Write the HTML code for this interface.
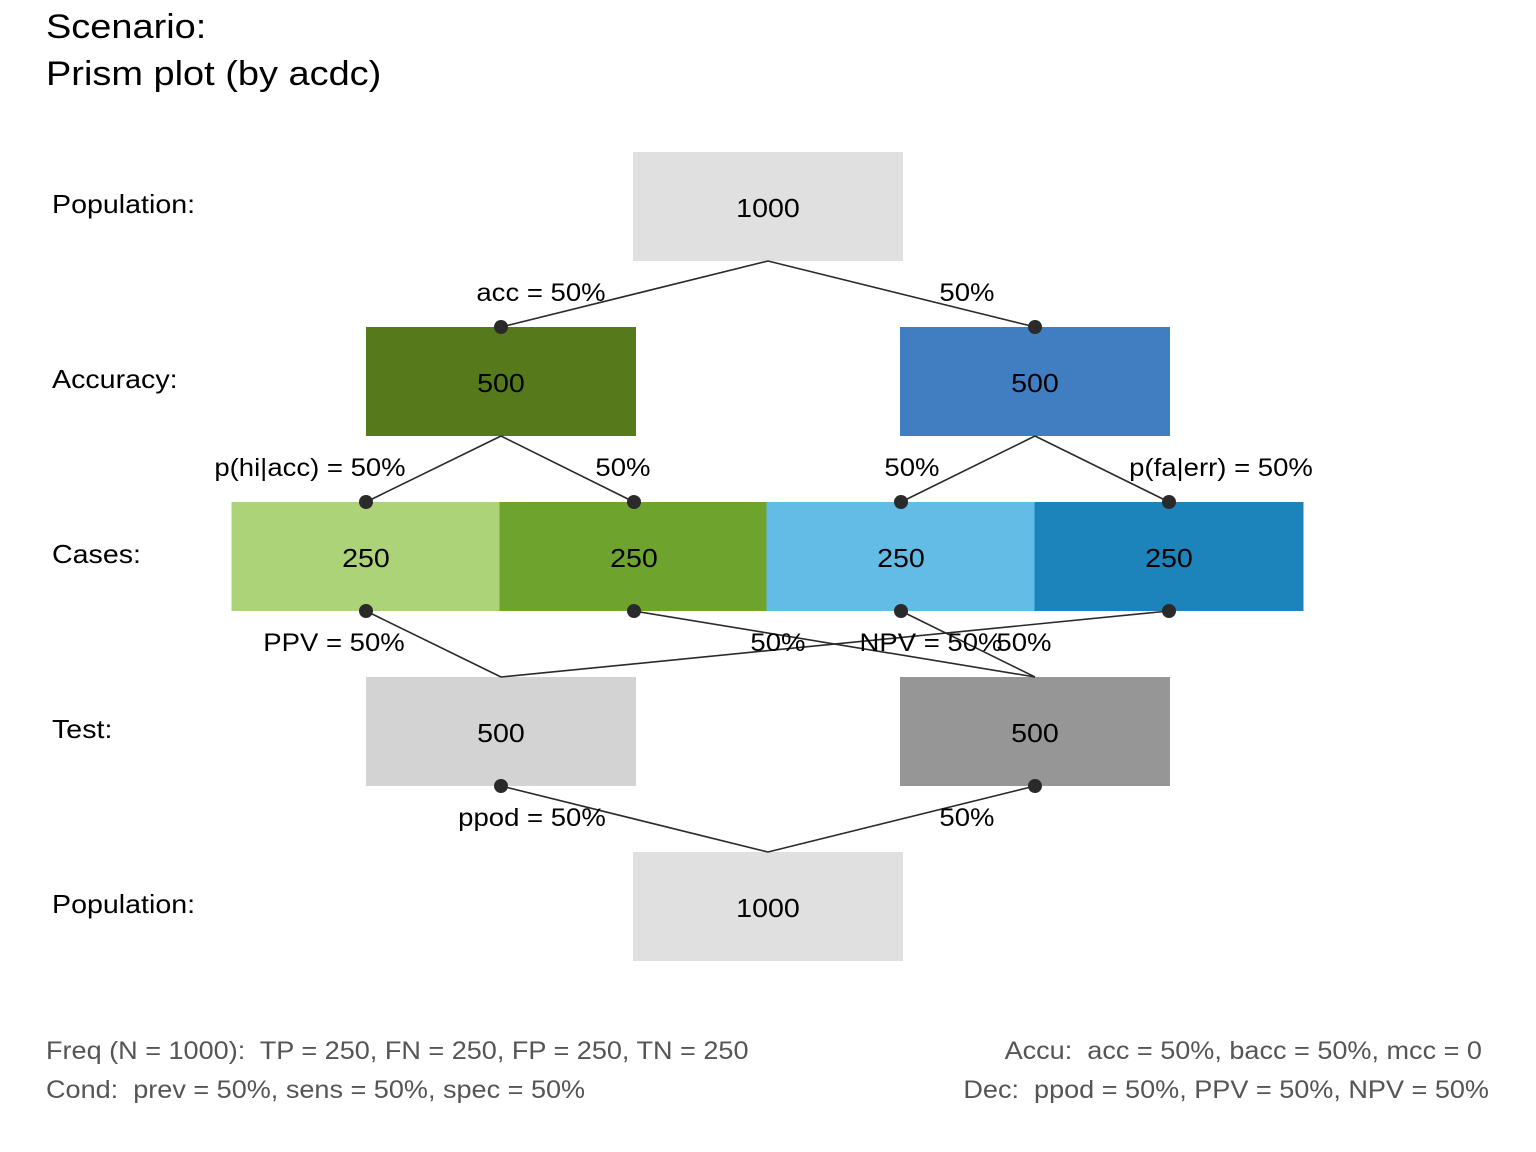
<!DOCTYPE html>
<html><head><meta charset="utf-8"><style>
body{margin:0;background:#fff;}
svg{display:block;font-family:"Liberation Sans",Arial,sans-serif;}
text{white-space:pre;}
</style></head><body>
<svg id="chart" width="1536" height="1152" viewBox="0 0 1536 1152">
<text x="46" y="38" font-size="34.5" fill="#000">Scenario:</text>
<text x="46" y="85" font-size="34.5" fill="#000">Prism plot (by acdc)</text>
<g font-size="26" fill="#000">
<text x="52" y="213">Population:</text>
<text x="52" y="388">Accuracy:</text>
<text x="52" y="563">Cases:</text>
<text x="52" y="738">Test:</text>
<text x="52" y="913">Population:</text>
</g>
<g id="boxes"></g>
<g id="links"></g>
<g id="edgelabels" font-size="25" fill="#000"></g>
<g font-size="24.6" fill="#555">
<text x="46" y="1059">Freq (N = 1000):  TP = 250, FN = 250, FP = 250, TN = 250</text>
<text x="46" y="1098">Cond:  prev = 50%, sens = 50%, spec = 50%</text>
<text x="1482" y="1059" text-anchor="end">Accu:  acc = 50%, bacc = 50%, mcc = 0</text>
<text x="1489" y="1098" text-anchor="end">Dec:  ppod = 50%, PPV = 50%, NPV = 50%</text>
</g>
</svg>
<script>
const popValues = [1000];
const accValues = [500, 500];
const caseValues = [250, 250, 250, 250];
const testValues = [500, 500];
const popBottomValues = [1000];
const accColors = ["#567a1b","#407ec1"];
const caseColors = ["#acd377","#6ea42e","#63bce5","#1d83bb"];
const testColors = ["#d3d3d3","#969696"];
const popColor = "#e0e0e0";

const NS = "http://www.w3.org/2000/svg";
const rowTop = [152, 327, 502, 677, 852];
const boxH = 109;
function colX(i, n){
  if(n===1) return 768;
  if(n===2) return [501,1035][i];
  return [366,634,901,1169][i];
}
const rows = [
  {vals:popValues, cols:[popColor], name:"population-top"},
  {vals:accValues, cols:accColors, name:"accuracy"},
  {vals:caseValues, cols:caseColors, name:"cases"},
  {vals:testValues, cols:testColors, name:"test"},
  {vals:popBottomValues, cols:[popColor], name:"population-bottom"}
];
const gB = document.getElementById("boxes");
rows.forEach((r, ri) => {
  r.vals.forEach((v, i) => {
    const n = r.vals.length, cx = colX(i, n);
    const w = n===4 ? 269 : 270;
    const rect = document.createElementNS(NS, "rect");
    rect.setAttribute("x", cx - w/2); rect.setAttribute("y", rowTop[ri]);
    rect.setAttribute("width", w); rect.setAttribute("height", boxH);
    rect.setAttribute("fill", r.cols[i % r.cols.length]);
    
    
    gB.appendChild(rect);
    const t = document.createElementNS(NS, "text");
    t.setAttribute("x", cx); t.setAttribute("y", rowTop[ri] + 65);
    t.setAttribute("text-anchor", "middle"); t.setAttribute("font-size", "26");
    t.textContent = v;
    
    
    gB.appendChild(t);
  });
});
const links = [
  [0,0,"b",1,0,"t"],[0,0,"b",1,1,"t"],
  [1,0,"b",2,0,"t"],[1,0,"b",2,1,"t"],[1,1,"b",2,2,"t"],[1,1,"b",2,3,"t"],
  [2,0,"b",3,0,"t"],[2,3,"b",3,0,"t"],[2,1,"b",3,1,"t"],[2,2,"b",3,1,"t"],
  [3,0,"b",4,0,"t"],[3,1,"b",4,0,"t"]
];
const gL = document.getElementById("links");
function pt(ri, i, e){ return [colX(i, rows[ri].vals.length), rowTop[ri] + (e==="b"?boxH:0)]; }
const dots = [];
links.forEach((l, k) => {
  let a = pt(l[0],l[1],l[2]), b = pt(l[3],l[4],l[5]);
  const ln = document.createElementNS(NS, "line");
  ln.setAttribute("x1", a[0]); ln.setAttribute("y1", a[1]);
  ln.setAttribute("x2", b[0]); ln.setAttribute("y2", b[1]);
  ln.setAttribute("stroke", "#2a2a2a"); ln.setAttribute("stroke-width", "1.6");
  
  
  gL.appendChild(ln);
  if(l[0]<2) dots.push(b); else dots.push(a);
});
const seen = {};
dots.forEach((d) => {
  const key = d.join(",");
  if(seen[key]) return; seen[key]=1;
  const c = document.createElementNS(NS, "circle");
  c.setAttribute("cx", d[0]); c.setAttribute("cy", d[1]); c.setAttribute("r", 7);
  c.setAttribute("fill", "#2a2a2a");
  
  
  gL.appendChild(c);
});
const pct = v => Math.round(v*100) + "%";
const N = popValues[0];
const edgeTexts = [
  "acc = " + pct(accValues[0]/N), pct(accValues[1]/N),
  "p(hi|acc) = " + pct(caseValues[0]/accValues[0]), pct(caseValues[1]/accValues[0]),
  pct(caseValues[2]/accValues[1]), "p(fa|err) = " + pct(caseValues[3]/accValues[1]),
  "PPV = " + pct(caseValues[0]/testValues[0]), pct(caseValues[1]/testValues[1]),
  "NPV = " + pct(caseValues[3]/testValues[1]), pct(caseValues[2]/testValues[1]),
  "ppod = " + pct(testValues[0]/N), pct(testValues[1]/N)
];
const edgePos = [[541,301],[967,301],[310,476],[623,476],[912,476],[1221,476],[334,651],[778,651],[931,651],[1024,651],[532,826],[967,826]];
const gE = document.getElementById("edgelabels");
edgeTexts.forEach((s, k) => {
  const t = document.createElementNS(NS, "text");
  t.setAttribute("x", edgePos[k][0]); t.setAttribute("y", edgePos[k][1]);
  t.setAttribute("text-anchor", "middle");
  t.textContent = s;
  
  
  gE.appendChild(t);
});
document.querySelectorAll("svg text").forEach(t => {
  const len = t.getComputedTextLength();
  t.setAttribute("textLength", (len * 1.1).toFixed(1));
  t.setAttribute("lengthAdjust", "spacingAndGlyphs");
});
</script>
</body></html>
